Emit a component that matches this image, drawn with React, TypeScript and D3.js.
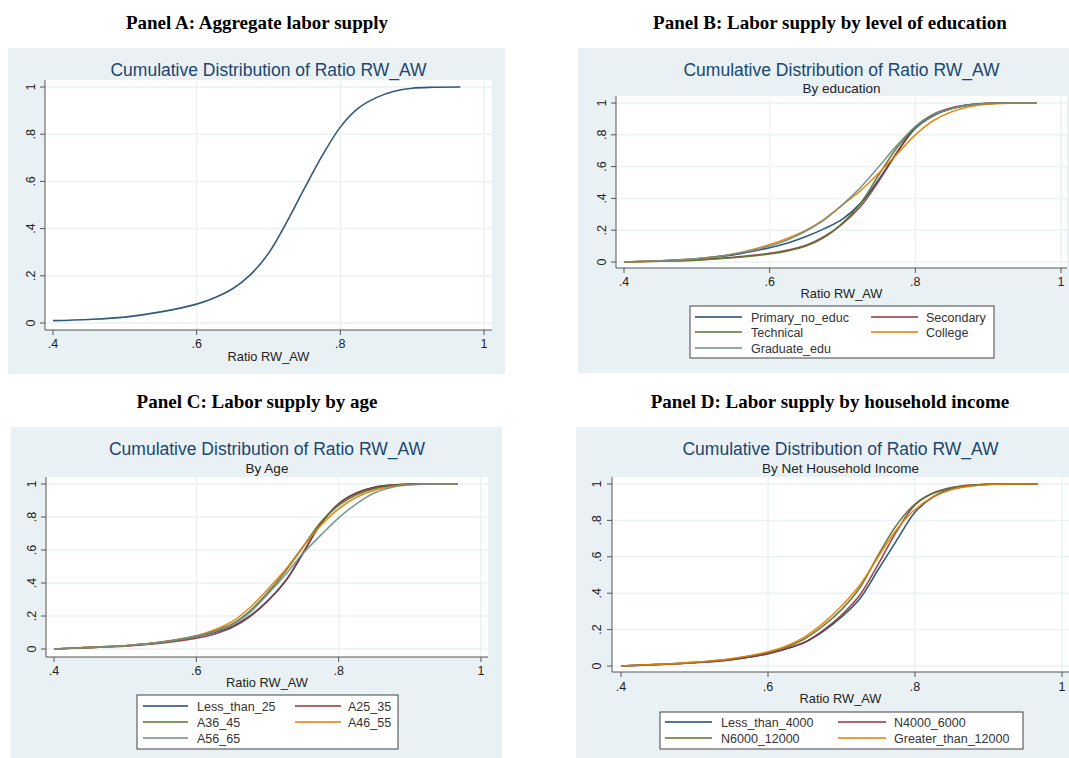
import * as d3 from "d3";

// shared x grid (Ratio RW_AW) at which the curves were read
const ratioX = [0.4, 0.45, 0.5, 0.55, 0.6, 0.625, 0.65, 0.675, 0.7, 0.725, 0.75, 0.775, 0.8, 0.825, 0.85, 0.875, 0.9, 0.93, 0.967];

// Panel A
const aggregate = [0.01, 0.015, 0.025, 0.047, 0.08, 0.107, 0.145, 0.205, 0.295, 0.425, 0.57, 0.71, 0.83, 0.91, 0.955, 0.982, 0.995, 0.999, 1];

// Panel B
const eduNames = ["Primary_no_educ", "Secondary", "Technical", "College", "Graduate_edu"];
const eduPrimary = [0, 0.008, 0.02, 0.045, 0.09, 0.12, 0.16, 0.21, 0.27, 0.37, 0.52, 0.69, 0.84, 0.92, 0.965, 0.988, 0.997, 1, 1];
const eduSecondary = [0, 0.005, 0.013, 0.03, 0.055, 0.075, 0.105, 0.16, 0.24, 0.35, 0.51, 0.69, 0.85, 0.93, 0.97, 0.99, 0.998, 1, 1];
const eduTechnical = [0, 0.005, 0.012, 0.027, 0.05, 0.07, 0.1, 0.155, 0.245, 0.37, 0.55, 0.72, 0.85, 0.925, 0.965, 0.988, 0.997, 1, 1];
const eduCollege = [0, 0.007, 0.02, 0.05, 0.11, 0.15, 0.2, 0.27, 0.36, 0.45, 0.56, 0.68, 0.8, 0.89, 0.945, 0.978, 0.993, 0.999, 1];
const eduGraduate = [0, 0.008, 0.02, 0.05, 0.1, 0.14, 0.195, 0.265, 0.36, 0.47, 0.6, 0.735, 0.85, 0.925, 0.965, 0.988, 0.997, 1, 1];

// Panel C
const ageNames = ["Less_than_25", "A25_35", "A36_45", "A46_55", "A56_65"];
const ageLt25 = [0, 0.01, 0.02, 0.04, 0.075, 0.1, 0.135, 0.2, 0.29, 0.41, 0.58, 0.76, 0.88, 0.945, 0.98, 0.994, 0.999, 1, 1];
const age25_35 = [0, 0.008, 0.017, 0.035, 0.065, 0.09, 0.13, 0.195, 0.29, 0.41, 0.585, 0.76, 0.88, 0.945, 0.978, 0.993, 0.999, 1, 1];
const age36_45 = [0, 0.01, 0.02, 0.04, 0.078, 0.11, 0.15, 0.23, 0.34, 0.47, 0.62, 0.77, 0.87, 0.935, 0.972, 0.99, 0.998, 1, 1];
const age46_55 = [0, 0.01, 0.02, 0.042, 0.08, 0.115, 0.165, 0.25, 0.36, 0.48, 0.62, 0.75, 0.85, 0.92, 0.962, 0.985, 0.996, 1, 1];
const age56_65 = [0, 0.01, 0.02, 0.04, 0.078, 0.105, 0.145, 0.22, 0.33, 0.45, 0.58, 0.69, 0.795, 0.88, 0.945, 0.98, 0.995, 0.999, 1];

// Panel D
const incNames = ["Less_than_4000", "N4000_6000", "N6000_12000", "Greater_than_12000"];
const incLt4000 = [0, 0.008, 0.018, 0.035, 0.068, 0.095, 0.13, 0.19, 0.27, 0.37, 0.53, 0.69, 0.845, 0.93, 0.972, 0.99, 0.998, 1, 1];
const inc4000_6000 = [0, 0.008, 0.018, 0.035, 0.068, 0.095, 0.13, 0.195, 0.28, 0.39, 0.56, 0.74, 0.885, 0.95, 0.98, 0.994, 0.999, 1, 1];
const inc6000_12000 = [0, 0.009, 0.02, 0.04, 0.075, 0.105, 0.15, 0.22, 0.31, 0.43, 0.61, 0.775, 0.89, 0.95, 0.978, 0.993, 0.999, 1, 1];
const incGt12000 = [0, 0.009, 0.02, 0.04, 0.078, 0.11, 0.16, 0.235, 0.33, 0.445, 0.6, 0.75, 0.86, 0.93, 0.97, 0.988, 0.997, 1, 1];

const xTicks = [0.4, 0.6, 0.8, 1];
const xTickLabels = [".4", ".6", ".8", "1"];
const yTicks = [0, 0.2, 0.4, 0.6, 0.8, 1];
const yTickLabels = ["0", ".2", ".4", ".6", ".8", "1"];

// Stata s2color
const colors = ["#1a476f", "#90353b", "#55752f", "#e37e00", "#6e8e84"];

const SANS = "'Liberation Sans', Arial, sans-serif";
const SERIF = "'Liberation Serif', 'Times New Roman', serif";

type Legend = { box: number[]; cols: number[][]; rows: number[] };

type PanelProps = {
  heading: string;
  headX: number;
  headY: number;
  bg: number[];
  plot: number[];
  xr: number[];
  yr: number[];
  titleY: number;
  subtitle?: string;
  subY?: number;
  yLabX: number;
  xLabY: number;
  xTitleY: number;
  series: number[][];
  names: string[];
  legend?: Legend;
};

function Panel(p: PanelProps) {
  const x = d3.scaleLinear().domain([0.4, 1]).range(p.xr);
  const y = d3.scaleLinear().domain([0, 1]).range(p.yr);
  const line = d3
    .line<number>()
    .x((_, i) => x(ratioX[i]))
    .y((d) => y(d))
    .curve(d3.curveCatmullRom.alpha(0.5));
  const [px0, py0, px1, py1] = p.plot;
  const cx = (px0 + px1) / 2;

  return (
    <g>
      <text x={p.headX} y={p.headY + 6} textAnchor="middle" fontFamily={SERIF} fontWeight="bold" fontSize={19} fill="#000">
        {p.heading}
      </text>
      <rect x={p.bg[0]} y={p.bg[1]} width={p.bg[2] - p.bg[0]} height={p.bg[3] - p.bg[1]} fill="#eaf1f4" />
      <rect x={px0} y={py0} width={px1 - px0} height={py1 - py0} fill="#fff" />
      {yTicks.map((t) => (
        <line key={"gy" + t} x1={px0} x2={px1} y1={y(t)} y2={y(t)} stroke="#eaf2f3" strokeWidth={1.5} />
      ))}
      {xTicks.slice(1).map((t) => (
        <line key={"gx" + t} x1={x(t)} x2={x(t)} y1={py0} y2={py1} stroke="#eaf2f3" strokeWidth={1.5} />
      ))}
      {p.series.map((s, i) => (
        <path key={i} d={line(s) ?? ""} fill="none" stroke={colors[i]} strokeWidth={1.6} strokeOpacity={0.9} />
      ))}
      <line x1={px0} x2={px0} y1={py0} y2={py1} stroke="#555" strokeWidth={1} />
      <line x1={px0} x2={px1} y1={py1} y2={py1} stroke="#555" strokeWidth={1} />
      {yTicks.map((t, i) => (
        <g key={"ty" + t}>
          <line x1={px0 - 5} x2={px0} y1={y(t)} y2={y(t)} stroke="#555" />
          <text
            transform={`translate(${p.yLabX + 4},${y(t)}) rotate(-90)`}
            textAnchor="middle"
            fontFamily={SANS}
            fontSize={12.5}
            fill="#222"
          >
            {yTickLabels[i]}
          </text>
        </g>
      ))}
      {xTicks.map((t, i) => (
        <g key={"tx" + t}>
          <line x1={x(t)} x2={x(t)} y1={py1} y2={py1 + 5} stroke="#555" />
          <text x={x(t)} y={p.xLabY + 4} textAnchor="middle" fontFamily={SANS} fontSize={12.5} fill="#222">
            {xTickLabels[i]}
          </text>
        </g>
      ))}
      <text x={cx} y={p.xTitleY + 4.5} textAnchor="middle" fontFamily={SANS} fontSize={12.8} fill="#222">
        Ratio RW_AW
      </text>
      <text x={cx} y={p.titleY + 6} textAnchor="middle" fontFamily={SANS} fontSize={17.5} fill="#1a476f">
        Cumulative Distribution of Ratio RW_AW
      </text>
      {p.subtitle && (
        <text x={cx} y={(p.subY ?? 0) + 5} textAnchor="middle" fontFamily={SANS} fontSize={13.5} fill="#222">
          {p.subtitle}
        </text>
      )}
      {p.legend && (
        <g>
          <rect
            x={p.legend.box[0]}
            y={p.legend.box[1]}
            width={p.legend.box[2] - p.legend.box[0]}
            height={p.legend.box[3] - p.legend.box[1]}
            fill="#fff"
            stroke="#444"
            strokeWidth={1}
          />
          {p.names.map((n, i) => {
            const col = p.legend!.cols[i % 2];
            const ry = p.legend!.rows[Math.floor(i / 2)];
            return (
              <g key={n}>
                <line x1={col[0]} x2={col[1]} y1={ry} y2={ry} stroke={colors[i]} strokeWidth={1.6} />
                <text x={col[2]} y={ry + 4.5} fontFamily={SANS} fontSize={12.5} fill="#333">
                  {n}
                </text>
              </g>
            );
          })}
        </g>
      )}
    </g>
  );
}

export default function App() {
  return (
    <svg
      width={1069}
      height={758}
      viewBox="0 0 1069 758"
      style={{ position: "absolute", left: 0, top: 0, background: "#fff" }}
    >
      <Panel
        heading="Panel A: Aggregate labor supply"
        headX={257}
        headY={23}
        bg={[8, 48, 505, 374]}
        plot={[45, 80, 492, 330]}
        xr={[53, 484]}
        yr={[323, 87]}
        titleY={70}
        yLabX={31}
        xLabY={344}
        xTitleY={356}
        series={[aggregate]}
        names={["Aggregate"]}
      />
      <Panel
        heading="Panel B: Labor supply by level of education"
        headX={830}
        headY={23}
        bg={[578, 48, 1069, 373]}
        plot={[616, 96, 1067, 268]}
        xr={[624, 1061]}
        yr={[262, 103]}
        titleY={70}
        subtitle="By education"
        subY={88}
        yLabX={602}
        xLabY={282}
        xTitleY={293}
        series={[eduPrimary, eduSecondary, eduTechnical, eduCollege, eduGraduate]}
        names={eduNames}
        legend={{ box: [690, 306, 994, 358], cols: [[695, 742, 751], [871, 918, 926]], rows: [317, 332, 348] }}
      />
      <Panel
        heading="Panel C: Labor supply by age"
        headX={257}
        headY={402}
        bg={[11, 427, 502, 758]}
        plot={[46, 477, 488, 657]}
        xr={[54, 481]}
        yr={[649, 484]}
        titleY={449}
        subtitle="By Age"
        subY={468}
        yLabX={32}
        xLabY={671}
        xTitleY={682}
        series={[ageLt25, age25_35, age36_45, age46_55, age56_65]}
        names={ageNames}
        legend={{ box: [137, 695, 398, 749], cols: [[143, 188, 197], [295, 341, 348]], rows: [706, 722, 738] }}
      />
      <Panel
        heading="Panel D: Labor supply by household income"
        headX={830}
        headY={402}
        bg={[576, 427, 1069, 758]}
        plot={[612, 477, 1069, 672]}
        xr={[621, 1062]}
        yr={[666, 484]}
        titleY={449}
        subtitle="By Net Household Income"
        subY={468}
        yLabX={597}
        xLabY={687}
        xTitleY={698}
        series={[incLt4000, inc4000_6000, inc6000_12000, incGt12000]}
        names={incNames}
        legend={{ box: [660, 712, 1023, 749], cols: [[665, 712, 721], [838, 886, 894]], rows: [722, 738] }}
      />
    </svg>
  );
}
